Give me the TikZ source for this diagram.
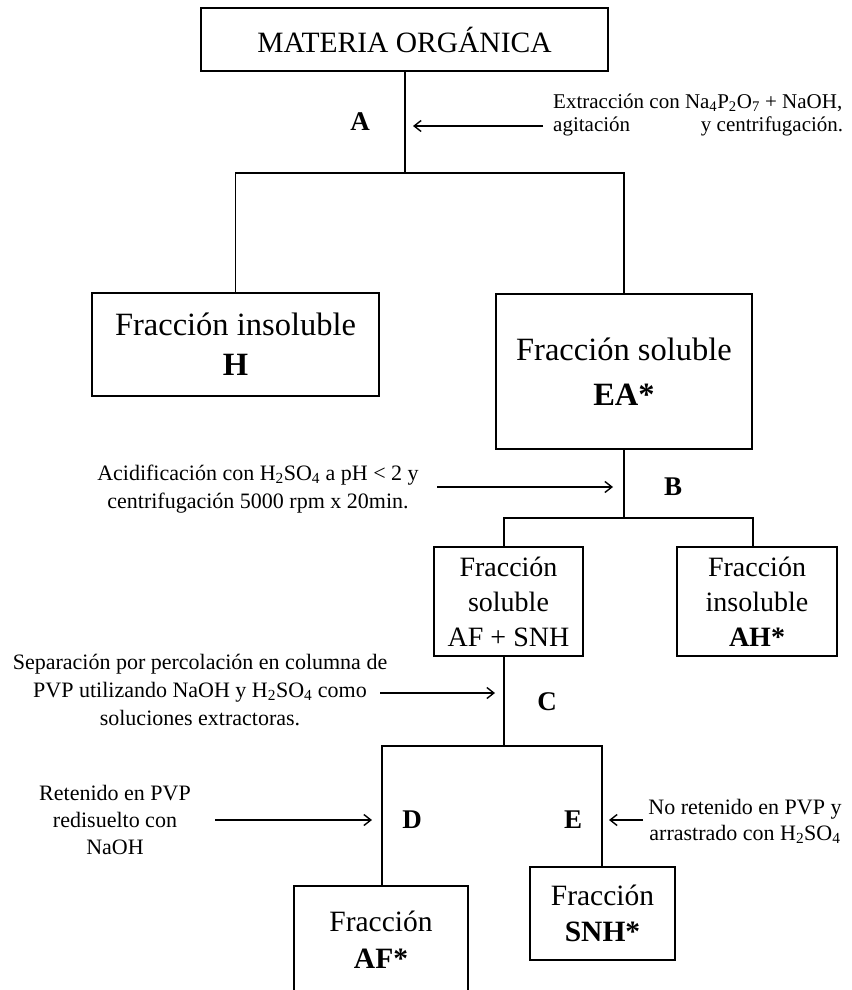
\documentclass[tikz,border=0pt]{standalone}
\usepackage{fontspec}
\setmainfont{Liberation Serif}
\usetikzlibrary{arrows.meta}
\newcommand\myfs[2]{\fontsize{#1}{#2}\selectfont}
\begin{document}
\begin{tikzpicture}[x=1pt,y=-1pt,
  box/.style={draw,line width=1.6pt,inner sep=0pt,align=center},
  ln/.style={line width=1.6pt},
  arr/.style={line width=1.4pt,-{Straight Barb[length=7pt,width=11pt]}},
  lbl/.style={inner sep=0pt,font=\bfseries\myfs{27}{27}},
  ann/.style={inner sep=0pt,align=center,font=\myfs{22}{28}}]
\useasboundingbox (0,0) rectangle (851,990);

% boxes
\node[box,minimum width=407pt,minimum height=63pt,font=\myfs{29.5}{34}] (top) at (404.5,39.5) {MATERIA ORGÁNICA};
\node[box,minimum width=287pt,minimum height=103pt,font=\myfs{32.5}{40}] (H) at (235.5,344.5) {Fracción insoluble\\\textbf{H}};
\node[box,minimum width=256pt,minimum height=155pt,font=\myfs{32.5}{45}] (EA) at (624,371.5) {Fracción soluble\\\textbf{EA*}};
\node[box,minimum width=149pt,minimum height=109pt,font=\myfs{28}{35}] (AFSNH) at (508.5,601.5) {Fracción\\soluble\\AF + SNH};
\node[box,minimum width=160pt,minimum height=109pt,font=\myfs{28}{35}] (AH) at (757,601.5) {Fracción\\insoluble\\\textbf{AH*}};
\node[box,minimum width=174pt,minimum height=108pt,font=\myfs{29.5}{37}] (AFs) at (381,940) {Fracción\\\textbf{AF*}};
\node[box,minimum width=145pt,minimum height=93pt,font=\myfs{29.5}{36}] (SNHs) at (602.5,913.5) {Fracción\\\textbf{SNH*}};

% step labels
\node[lbl] (A) at (360,122) {A};
\node[lbl] (B) at (673,487) {B};
\node[lbl] (C) at (547,702) {C};
\node[lbl] (D) at (412,820) {D};
\node[lbl] (E) at (573,820) {E};

% annotations
\node[inner sep=0pt,align=left,anchor=west,font=\myfs{21}{23}] (t1) at (553,115)
  {Extracción con Na\textsubscript{4}P\textsubscript{2}O\textsubscript{7} + NaOH,\\\makebox[290pt][l]{agitación\hfill y centrifugación.}};
\node[ann] (t2) at (258,489) {Acidificación con H\textsubscript{2}SO\textsubscript{4} a pH < 2 y\\centrifugación 5000 rpm x 20min.};
\node[ann] (t3) at (200,690) {Separación por percolación en columna de\\PVP utilizando NaOH y H\textsubscript{2}SO\textsubscript{4} como\\soluciones extractoras.};
\node[ann,font=\myfs{22}{27}] (t4) at (115,820) {Retenido en PVP\\redisuelto con\\NaOH};
\node[ann,font=\myfs{22}{26}] (t5) at (745,821) {No retenido en PVP y\\arrastrado con H\textsubscript{2}SO\textsubscript{4}};

% junctions
\coordinate (jA) at (405,173);
\coordinate (jB) at (624,518);
\coordinate (bl) at (504,518);
\coordinate (br) at (753,518);
\coordinate (jC) at (504,746);
\coordinate (dl) at (382,746);
\coordinate (dr) at (602,746);

% tree lines
\draw[ln] (top.south -| jA) -- (jA);
\draw[ln] (H.north) |- (jA) -| (EA.north);
\draw[ln] (EA.south) -- (jB);
\draw[ln] (AFSNH.north -| bl) |- (jB) -| (AH.north -| br);
\draw[ln] (AFSNH.south -| jC) -- (jC);
\draw[ln] (AFs.north -| dl) |- (jC) -| (SNHs.north -| dr);

% arrow ends
\coordinate (a1s) at (543,126); \coordinate (a1e) at (413,126);
\coordinate (a2s) at (437,487); \coordinate (a2e) at (613,487);
\coordinate (a3s) at (380,693); \coordinate (a3e) at (495,693);
\coordinate (a4s) at (215,820); \coordinate (a4e) at (372,820);
\coordinate (a5s) at (643,820); \coordinate (a5e) at (609,820);
\draw[arr] (a1s) -- (a1e);
\draw[arr] (a2s) -- (a2e);
\draw[arr] (a3s) -- (a3e);
\draw[arr] (a4s) -- (a4e);
\draw[arr] (a5s) -- (a5e);
\end{tikzpicture}
\end{document}
